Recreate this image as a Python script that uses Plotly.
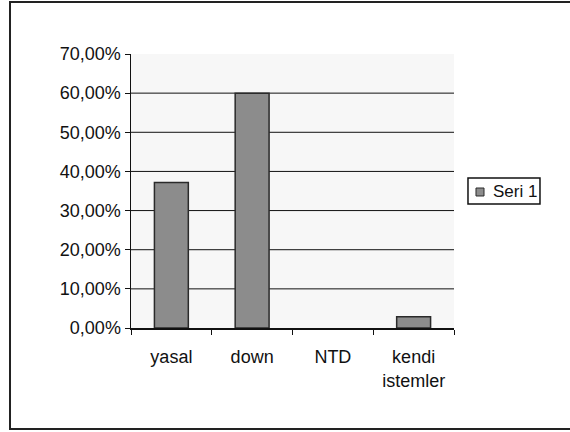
import plotly.graph_objects as go

categories = ["yasal", "down", "NTD", "kendi<br>istemler"]
values = [0.3714, 0.60, 0.0, 0.0286]
y_ticks = [0, 0.1, 0.2, 0.3, 0.4, 0.5, 0.6, 0.7]
grid_vals = [0.1, 0.2, 0.3, 0.4, 0.5, 0.6]
series_name = "Seri 1"

FONT = "Liberation Sans, Arial, sans-serif"
font = dict(family=FONT, size=18, color="#111")
bar_fill = "#8c8c8c"
bar_edge = "#2a2a2a"

fig = go.Figure()
fig.add_trace(go.Bar(
    x=categories, y=values, name=series_name, width=0.42,
    marker=dict(color=bar_fill,
                line=dict(color=bar_edge, width=[1.5 if v > 0 else 0 for v in values])),
    showlegend=False,
))

shapes = [dict(type="line", xref="paper", yref="y", x0=0, x1=1, y0=g, y1=g,
               line=dict(color="#111", width=1), layer="below") for g in grid_vals]
# outer frame
shapes.append(dict(type="rect", xref="paper", yref="paper",
                   x0=-0.3746, x1=1.40, y0=-0.3686, y1=1.190,
                   line=dict(color="#222", width=2)))
# legend box and key
shapes.append(dict(type="rect", xref="paper", yref="paper",
                   x0=1.0433, x1=1.2662, y0=0.4526, y1=0.5474,
                   line=dict(color="#111", width=1.5), fillcolor="white"))
shapes.append(dict(type="rect", xref="paper", yref="paper",
                   x0=1.0681, x1=1.0929, y0=0.4818, y1=0.5109,
                   line=dict(color=bar_edge, width=1), fillcolor=bar_fill))

fig.update_layout(
    width=570, height=432,
    margin=dict(l=131, r=116, t=54, b=104),
    paper_bgcolor="white", plot_bgcolor="#f7f7f7",
    font=font, separators=",.",
    shapes=shapes,
    showlegend=False,
    hovermode=False,
    annotations=[dict(text=series_name, xref="paper", yref="paper",
                      x=1.1145, y=0.5, xanchor="left", yanchor="middle",
                      showarrow=False, font=dict(family=FONT, size=17, color="#111"))],
)
fig.update_yaxes(range=[0, 0.7], tickvals=y_ticks, tickformat=".2%",
                 showgrid=False, zeroline=False, showline=True, linecolor="#111",
                 linewidth=1.5, ticks="outside", ticklen=5, tickcolor="#111",
                 fixedrange=True)
fig.update_xaxes(showline=True, linecolor="#111", linewidth=1.5, ticks="outside",
                 tickson="boundaries", ticklen=5, tickcolor="#111", showgrid=False,
                 ticklabelstandoff=12, fixedrange=True)

fig.write_html("out.html", config={"displayModeBar": False, "staticPlot": True},
               post_script="document.body.style.margin='0';")
